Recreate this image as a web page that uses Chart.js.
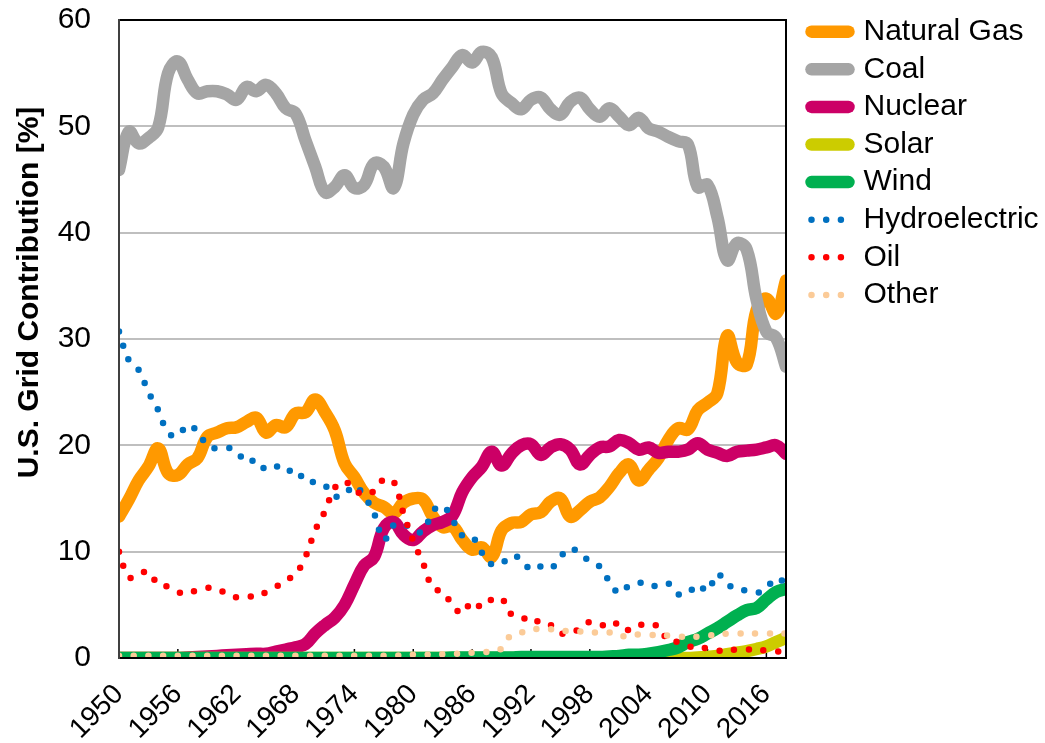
<!DOCTYPE html>
<html>
<head>
<meta charset="utf-8">
<script src="https://cdn.jsdelivr.net/npm/chart.js@4.4.1/dist/chart.umd.min.js"></script>
<style>
  html, body { margin: 0; padding: 0; background: #ffffff; }
  #wrap { width: 1045px; height: 743px; position: relative; }
</style>
</head>
<body>
<div id="wrap"><canvas id="c" width="1045" height="743"></canvas></div>
<script>
const years = ['1950','1951','1952','1953','1954','1955','1956','1957','1958','1959',
  '1960','1961','1962','1963','1964','1965','1966','1967','1968','1969',
  '1970','1971','1972','1973','1974','1975','1976','1977','1978','1979',
  '1980','1981','1982','1983','1984','1985','1986','1987','1988','1989',
  '1990','1991','1992','1993','1994','1995','1996','1997','1998','1999',
  '2000','2001','2002','2003','2004','2005','2006','2007','2008','2009',
  '2010','2011','2012','2013','2014','2015','2016','2017','2018'];

const tickLabels = ['1950','1956','1962','1968','1974','1980','1986','1992','1998','2004','2010','2016'];
const yTicks = [0, 10, 20, 30, 40, 50, 60];

const naturalGas = [13.3,14.9,16.7,18.0,19.7,17.4,17.2,18.2,18.8,20.8,
  21.2,21.6,21.7,22.2,22.6,21.2,21.9,21.7,23.0,23.1,
  24.3,23.1,21.4,18.3,17.0,15.5,14.6,14.2,13.6,14.6,
  15.0,14.9,13.3,12.3,12.4,11.1,10.2,10.4,9.5,12.0,
  12.7,12.8,13.5,13.7,14.7,15.0,13.3,13.9,14.7,15.1,
  16.1,17.4,18.2,16.7,17.7,18.8,20.5,21.6,21.5,23.3,
  24.0,24.9,30.3,27.8,27.6,32.7,33.8,32.4,35.5];

const coal = [45.9,49.5,48.4,48.9,49.9,55.0,56.1,54.4,53.1,53.3,
  53.3,53.0,52.5,53.7,53.3,53.9,53.1,51.7,51.2,48.7,
  46.2,43.8,44.3,45.4,44.2,44.5,46.5,46.2,44.2,48.4,
  51.1,52.5,53.1,54.4,55.6,56.7,56.0,57.0,56.5,53.1,
  52.2,51.6,52.5,52.7,51.6,51.1,52.3,52.7,51.6,50.9,
  51.7,50.9,50.1,50.8,49.8,49.5,49.0,48.6,48.3,44.3,
  44.5,41.5,37.4,39.0,38.4,33.7,30.7,30.1,27.4];

const nuclear = [0,0,0,0,0,0,0,0.05,0.1,0.15,
  0.2,0.25,0.3,0.35,0.4,0.4,0.6,0.8,1.0,1.3,
  2.3,3.1,3.8,5.0,6.9,8.7,9.5,12.2,12.8,11.6,
  11.1,11.9,12.5,12.8,13.4,15.6,17.0,18.0,19.4,18.1,
  19.2,20.0,20.1,19.1,19.8,20.1,19.6,18.2,19.1,19.8,
  19.9,20.5,20.2,19.6,19.8,19.3,19.4,19.4,19.6,20.2,
  19.6,19.3,19.0,19.4,19.5,19.6,19.8,20.0,19.2];

const solar = [0,0,0,0,0,0,0,0,0,0,
  0,0,0,0,0,0,0,0,0,0,
  0,0,0,0,0,0,0,0,0,0,
  0,0,0,0,0,0,0,0,0,0,
  0,0,0,0,0,0,0,0,0,0,
  0,0,0,0,0,0,0,0,0,0.05,
  0.1,0.2,0.35,0.5,0.65,0.85,1.1,1.5,1.9];

const wind = [0,0,0,0,0,0,0,0,0,0,
  0,0,0,0,0,0,0,0,0,0,
  0,0,0,0,0,0,0,0,0,0,
  0,0,0,0,0.05,0.05,0.05,0.05,0.05,0.05,
  0.05,0.1,0.1,0.1,0.1,0.1,0.1,0.1,0.1,0.1,
  0.15,0.2,0.3,0.3,0.4,0.55,0.75,1.0,1.5,1.8,
  2.3,2.8,3.4,4.0,4.5,4.7,5.5,6.2,6.5];

const hydroelectric = [30.7,28.0,27.1,25.0,23.3,21.2,20.9,21.9,21.3,20.0,
  19.7,19.8,19.4,18.4,18.6,17.7,18.0,18.0,17.0,17.2,
  16.4,16.2,15.2,15.4,16.2,15.2,13.6,11.1,12.5,12.6,
  12.0,11.9,13.8,14.3,13.0,11.5,11.4,9.9,8.8,8.9,
  9.6,9.3,8.3,8.6,8.4,9.5,10.3,9.8,9.1,8.6,
  7.2,6.1,6.8,7.1,6.8,6.8,7.0,6.0,6.1,6.9,
  6.3,7.9,6.9,6.6,6.3,6.1,6.6,7.5,7.0];

const oil = [10.0,7.6,7.9,8.1,6.9,6.7,6.2,6.1,6.4,6.6,
  6.4,6.1,5.7,5.8,5.8,6.2,6.7,7.3,7.9,9.5,
  12.0,13.8,16.0,16.6,15.8,15.4,15.7,16.8,16.6,13.6,
  11.0,8.9,6.6,6.2,5.0,4.2,5.3,4.8,5.5,5.6,
  4.1,3.9,3.3,3.5,3.1,2.3,2.5,2.7,3.4,3.2,
  2.9,3.3,2.6,3.1,3.0,3.0,1.6,1.5,1.1,1.0,
  0.9,0.7,0.7,0.8,0.8,0.8,0.7,0.6,0.7];

const other = [0.2,0.2,0.2,0.2,0.2,0.2,0.2,0.2,0.2,0.2,
  0.2,0.2,0.2,0.2,0.2,0.2,0.2,0.2,0.2,0.2,
  0.2,0.2,0.2,0.2,0.2,0.2,0.2,0.2,0.2,0.3,
  0.3,0.3,0.3,0.35,0.4,0.4,0.5,0.55,0.6,0.9,
  2.2,2.4,2.6,2.8,2.7,2.6,2.5,2.5,2.4,2.4,
  2.4,2.0,2.2,2.2,2.2,2.1,2.1,2.0,2.0,2.0,
  2.1,2.2,2.3,2.3,2.3,2.3,2.3,2.3,2.3];

const seriesNames = ['Natural Gas','Coal','Nuclear','Solar','Wind','Hydroelectric','Oil','Other'];
const seriesColors = ['#FF9900','#A5A5A5','#CC0066','#CCCC00','#00B050','#0070C0','#FF0000','#FBCB98'];
const seriesValues = [naturalGas, coal, nuclear, solar, wind, hydroelectric, oil, other];
const seriesDotted = [false,false,false,false,false,true,true,true];

const FONT = "'Liberation Sans', Arial, sans-serif";

const datasets = seriesNames.map((name, i) => {
  const dotted = seriesDotted[i];
  return {
    label: name,
    data: seriesValues[i],
    borderColor: seriesColors[i],
    backgroundColor: seriesColors[i],
    borderWidth: dotted ? 6.5 : 12.5,
    borderDash: dotted ? [0, 14.7] : [],
    borderCapStyle: 'round',
    borderJoinStyle: 'round',
    pointRadius: 0,
    pointHoverRadius: 0,
    tension: 0.4,
    fill: false,
    clip: 0,
    order: seriesNames.length - i
  };
});

const framePlugin = {
  id: 'frame',
  beforeDraw(chart) {
    const lg = chart.legend;
    if (lg) {
      const pad = lg.options.labels.padding;
      const w = lg.width, h = lg.height;
      lg.left = 811.5 - pad; lg.right = lg.left + w;
      lg.top = 31.7 - 15 - pad; lg.bottom = lg.top + h;
    }
  },
  beforeDatasetsDraw(chart) {
    const ctx = chart.ctx, a = chart.chartArea, xs = chart.scales.x;
    ctx.save();
    ctx.strokeStyle = '#000000';
    ctx.lineWidth = 1.5;
    tickLabels.forEach(l => {
      const x = xs.getPixelForValue(years.indexOf(l));
      ctx.beginPath(); ctx.moveTo(x, a.bottom); ctx.lineTo(x, a.bottom - 9); ctx.stroke();
    });
    ctx.restore();
  },
  afterDatasetsDraw(chart) {
    const ctx = chart.ctx, a = chart.chartArea;
    ctx.save();
    ctx.lineWidth = 2;
    ctx.strokeStyle = '#000000';
    ctx.beginPath();
    ctx.moveTo(a.left, a.top); ctx.lineTo(a.right, a.top); ctx.lineTo(a.right, a.bottom); ctx.lineTo(a.left, a.bottom);
    ctx.stroke();
    ctx.strokeStyle = '#404040';
    ctx.beginPath(); ctx.moveTo(a.left, a.top - 1); ctx.lineTo(a.left, a.bottom + 1); ctx.stroke();
    ctx.restore();
  },
  afterDraw(chart) {
    const ctx = chart.ctx;
    ctx.save();
    ctx.translate(37.5, 292.5);
    ctx.rotate(-Math.PI / 2);
    ctx.font = "bold 30px " + FONT;
    ctx.fillStyle = '#000000';
    ctx.textAlign = 'center';
    ctx.textBaseline = 'alphabetic';
    ctx.fillText('U.S. Grid Contribution [%]', 0, 0);
    ctx.restore();
  }
};

Chart.defaults.color = '#000000';
Chart.defaults.font.family = FONT;

new Chart(document.getElementById('c'), {
  type: 'line',
  data: { labels: years, datasets: datasets },
  options: {
    responsive: false,
    animation: false,
    events: [],
    layout: { padding: { left: 0, right: 19, top: 20, bottom: 0 } },
    plugins: {
      tooltip: { enabled: false },
      legend: {
        display: true,
        position: 'right',
        align: 'start',
        maxWidth: 240,
        labels: {
          usePointStyle: true,
          pointStyleWidth: 37,
          padding: 7.6,
          color: '#000000',
          font: { size: 30, family: FONT },
          generateLabels(chart) {
            return chart.data.datasets.map((ds, i) => ({
              text: ds.label,
              fillStyle: ds.borderColor,
              strokeStyle: ds.borderColor,
              fontColor: '#000000',
              lineWidth: ds.borderWidth,
              lineDash: ds.borderDash,
              lineDashOffset: 0,
              lineCap: 'round',
              lineJoin: 'round',
              pointStyle: 'line',
              rotation: 0,
              hidden: false,
              datasetIndex: i
            }));
          }
        }
      }
    },
    scales: {
      x: {
        type: 'category',
        offset: false,
        afterFit(s) { s.height = 85; s.paddingLeft = 0; s.paddingRight = 0; },
        grid: { display: false, drawTicks: false },
        border: { display: false },
        ticks: {
          autoSkip: false,
          minRotation: 45,
          maxRotation: 45,
          padding: 20,
          color: '#000000',
          font: { size: 28, family: FONT },
          callback: function (value) {
            const lab = this.getLabelForValue(value);
            return tickLabels.includes(lab) ? lab : null;
          }
        }
      },
      y: {
        min: 0,
        max: 60,
        afterFit(s) { s.width = 119; s.paddingTop = 0; s.paddingBottom = 0; },
        afterBuildTicks(s) { s.ticks = yTicks.map(v => ({ value: v })); },
        grid: { color: '#BFBFBF', lineWidth: 2, drawTicks: false },
        border: { display: false },
        ticks: {
          stepSize: 10,
          padding: 28,
          color: '#000000',
          font: { size: 30, family: FONT }
        }
      }
    }
  },
  plugins: [framePlugin]
});
</script>
</body>
</html>
